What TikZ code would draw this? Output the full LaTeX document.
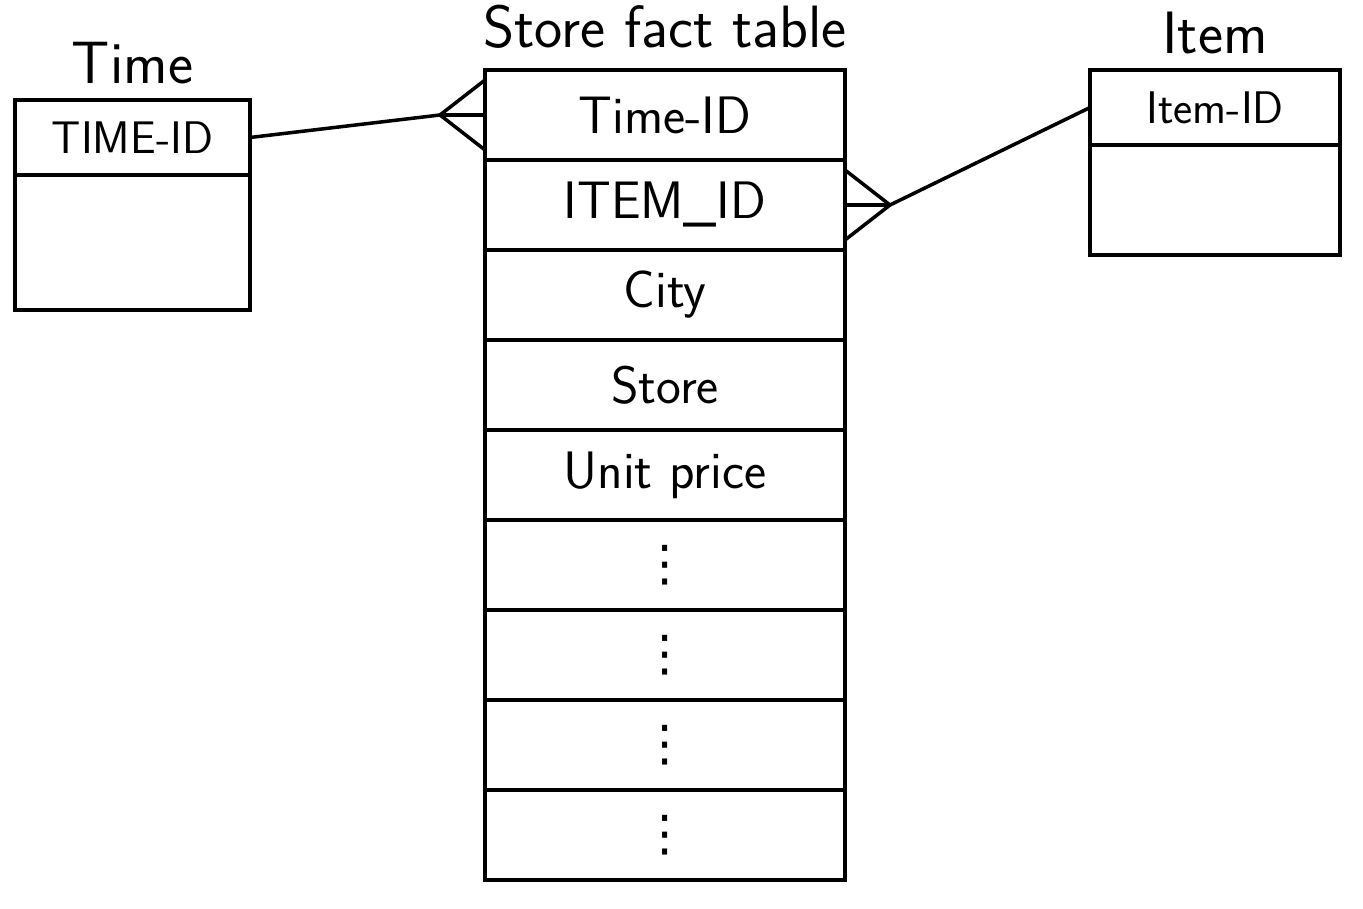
\documentclass[tikz,border=0pt]{standalone}
\usepackage{fontspec}
\newfontfamily\dotsfont{DejaVu Sans}
\usetikzlibrary{positioning}

\begin{document}
\begin{tikzpicture}[
  font=\sffamily\fontsize{30}{36}\selectfont,
  title/.style={font=\sffamily\fontsize{34}{40}\selectfont},
  keyrow/.style={draw,line width=2pt,minimum height=1.5cm,inner sep=0pt,outer sep=0pt,
    font=\sffamily\fontsize{26}{30}\selectfont},
  bodyrow/.style={draw,line width=2pt,inner sep=0pt,outer sep=0pt},
  factrow/.style={draw,line width=2pt,minimum width=7.2cm,minimum height=1.8cm,
    inner sep=0pt,outer sep=0pt},
  dotsrow/.style={factrow,font=\dotsfont\fontsize{28}{32}\selectfont},
  link/.style={line width=2pt,line cap=round,line join=round}
]
  \useasboundingbox (0,0) rectangle (27.26,-18.16);

  \node[keyrow,minimum width=4.7cm] (thead) at (2.65,-2.75) {TIME-ID};
  \node[bodyrow,minimum width=4.7cm,minimum height=2.7cm,below=0pt of thead] (tbody) {};
  \node[title,above=2mm of thead] (ttitle) {Time};

  \node[factrow] (frow1) at (13.3,-2.3) {Time-ID};
  \node[factrow,below=0pt of frow1] (frow2) {ITEM\_ID};
  \node[factrow,below=0pt of frow2] (frow3) {City};
  \node[factrow,below=0pt of frow3] (frow4) {Store};
  \node[factrow,below=0pt of frow4] (frow5) {Unit price};
  \node[dotsrow,below=0pt of frow5] (frow6) {⋮};
  \node[dotsrow,below=0pt of frow6] (frow7) {⋮};
  \node[dotsrow,below=0pt of frow7] (frow8) {⋮};
  \node[dotsrow,below=0pt of frow8] (frow9) {⋮};
  \node[title,above=3mm of frow1] (ftitle) {Store fact table};

  \node[keyrow,minimum width=5cm] (ihead) at (24.3,-2.15) {Item-ID};
  \node[bodyrow,minimum width=5cm,minimum height=2.2cm,below=0pt of ihead] (ibody) {};
  \node[title,above=2mm of ihead] (ititle) {Item};

  \coordinate[left=9mm of frow1.west] (tfoot);
  \coordinate[right=9mm of frow2.east] (ifoot);

  \draw[link] (thead.east) -- (tfoot);
  \draw[link] ([yshift=7mm]frow1.west) -- (tfoot) -- ([yshift=-7mm]frow1.west);
  \draw[link] (tfoot) -- (frow1.west);

  \draw[link] (ihead.west) -- (ifoot);
  \draw[link] ([yshift=7mm]frow2.east) -- (ifoot) -- ([yshift=-7mm]frow2.east);
  \draw[link] (ifoot) -- (frow2.east);
\end{tikzpicture}
\end{document}
